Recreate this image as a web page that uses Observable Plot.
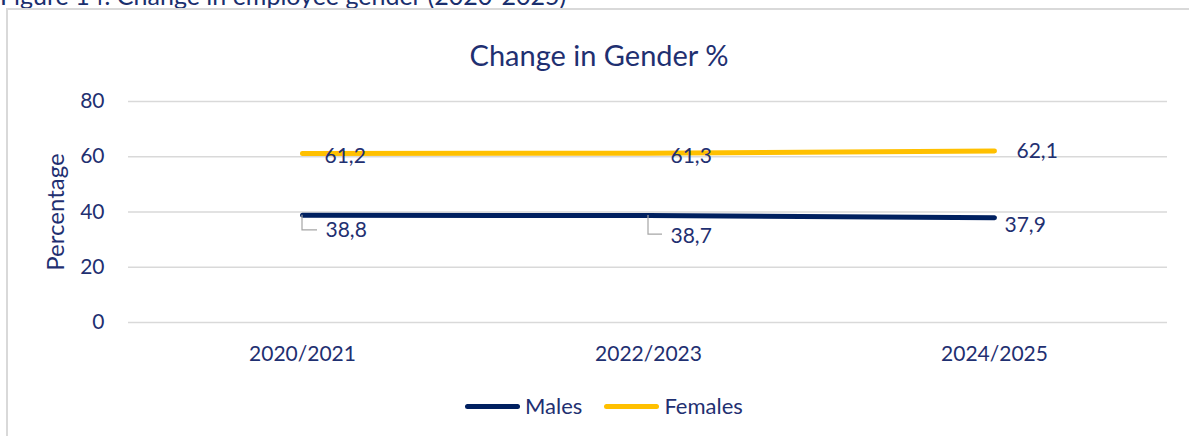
<!DOCTYPE html>
<html>
<head>
<meta charset="utf-8">
<script src="https://cdn.jsdelivr.net/npm/d3@7"></script>
<script src="https://cdn.jsdelivr.net/npm/@observablehq/plot@0.6"></script>
<style>
  html, body { margin: 0; padding: 0; background: #fff; overflow: hidden; }
  body { width: 1189px; height: 436px; position: relative; font-family: Lato, "Open Sans", sans-serif; color: #1f3071; }
  #caption { position: absolute; left: 0; top: -17px; font-size: 25px; line-height: 1; white-space: nowrap; color: #1a2f6e; }
  #box { position: absolute; left: 6px; top: 8px; width: 1300px; height: 600px; border: 2px solid #d9d9d9; box-sizing: border-box; }
  #chart { position: absolute; left: 0; top: 0; }
  #title { position: absolute; left: 0; width: 1198px; top: 39px; text-align: center; font-size: 29px; line-height: 32px; }
  #legend { position: absolute; left: 465px; top: 394px; display: flex; align-items: center; font-size: 22px; line-height: 24px; }
  .sw { width: 55px; height: 5px; border-radius: 3px; margin-right: 5px; }
  .item { display: flex; align-items: center; margin-right: 22px; }
</style>
</head>
<body>
<div id="caption">Figure 14: Change in employee gender (2020-2025)</div>
<div id="box"></div>
<div id="chart"></div>
<div id="title">Change in Gender %</div>
<div id="legend"></div>
<script>
const categories = ["2020/2021", "2022/2023", "2024/2025"];
const males = [38.8, 38.7, 37.9];
const females = [61.2, 61.3, 62.1];
const yTicks = [0, 20, 40, 60, 80];
const seriesNames = ["Males", "Females"];
const seriesColors = ["#002060", "#FFC000"];
const textColor = "#1f3071";

const fmt = v => v.toFixed(1).replace(".", ",");
const maleRows = categories.map((c, i) => ({category: c, series: "Males", value: males[i]}));
const femaleRows = categories.map((c, i) => ({category: c, series: "Females", value: females[i]}));
const rows = [...maleRows, ...femaleRows];

function leader(datum, down, across) {
  return Plot.dot([datum], {
    x: "category", y: "value",
    render(index, scales, values) {
      const g = d3.create("svg:g");
      for (const i of index) {
        const x = values.x[i], y = values.y[i];
        g.append("path")
          .attr("d", `M${x},${y}V${y + down}H${x + across}`)
          .attr("fill", "none")
          .attr("stroke", "#a6a6a6")
          .attr("stroke-width", 1.2);
      }
      return g.node();
    }
  });
}

function label(datum, dx, dy) {
  return Plot.text([datum], {
    x: "category", y: "value", text: d => fmt(d.value),
    dx, dy, textAnchor: "start", fill: textColor, fontSize: 21
  });
}

const chart = Plot.plot({
  width: 1189,
  height: 380,
  marginLeft: 128,
  marginRight: 22,
  marginTop: 101,
  marginBottom: 58,
  style: {fontFamily: "Lato, 'Open Sans', sans-serif", fontSize: "21px", color: textColor, background: "transparent"},
  x: {type: "point", domain: categories, padding: 0.5, label: null},
  y: {domain: [0, 80], label: null},
  color: {domain: seriesNames, range: seriesColors},
  marks: [
    Plot.ruleY(yTicks, {stroke: "#d9d9d9", strokeWidth: 1.5}),
    Plot.axisY({ticks: yTicks, tickSize: 0, tickPadding: 24, fontSize: 21, label: null}),
    Plot.axisY({ticks: [], tickSize: 0, label: "Percentage", labelAnchor: "center", labelArrow: "none", labelOffset: 82, fontSize: 24}),
    Plot.axisX({tickSize: 0, tickPadding: 24, label: null, fontSize: 21}),
    Plot.line(rows, {x: "category", y: "value", z: "series", stroke: "series", strokeWidth: 5, strokeLinecap: "round", strokeLinejoin: "round"}),
    leader(maleRows[0], 15, 15),
    leader(maleRows[1], 19, 14),
    label(femaleRows[0], 22, 3),
    label(femaleRows[1], 22, 3),
    label(femaleRows[2], 22, 0),
    label(maleRows[0], 23, 15),
    label(maleRows[1], 22, 21),
    label(maleRows[2], 10, 7)
  ]
});
document.getElementById("chart").appendChild(chart);

const legend = document.getElementById("legend");
seriesNames.forEach((name, i) => {
  const item = document.createElement("div");
  item.className = "item";
  const sw = document.createElement("div");
  sw.className = "sw";
  sw.style.background = seriesColors[i];
  const t = document.createElement("span");
  t.textContent = name;
  item.appendChild(sw);
  item.appendChild(t);
  legend.appendChild(item);
});
</script>
</body>
</html>
